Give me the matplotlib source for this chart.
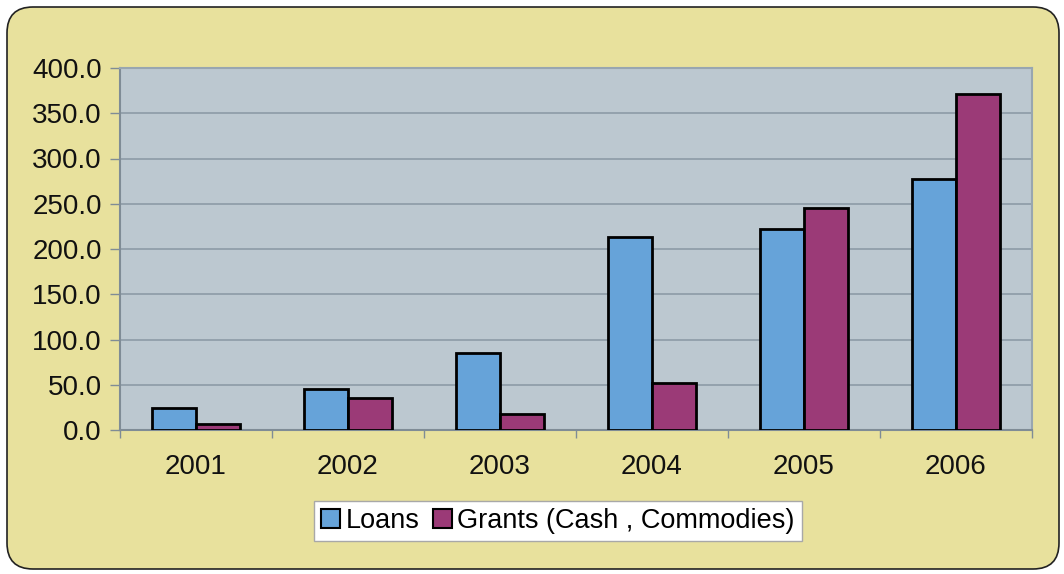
import matplotlib
matplotlib.use("Agg")
import matplotlib.pyplot as plt
import matplotlib.patches as mpatches
import numpy as np

plt.rcParams["font.family"] = ["Liberation Sans", "DejaVu Sans"]

years = ["2001", "2002", "2003", "2004", "2005", "2006"]
loans = [24.0, 45.0, 85.0, 213.0, 222.0, 277.0]
grants = [6.5, 35.0, 17.5, 52.0, 245.0, 371.0]
series_names = ["Loans", "Grants (Cash , Commodies)"]

LOAN_C = "#66a3d9"
GRANT_C = "#9b3a77"
W, H = 1064, 574

fig = plt.figure(figsize=(W / 100, H / 100), dpi=100)
fig.patch.set_facecolor("white")

# rounded yellow panel behind the chart
bg = fig.add_axes([0, 0, 1, 1])
bg.set_xlim(0, W)
bg.set_ylim(H, 0)
bg.axis("off")
bg.add_patch(mpatches.FancyBboxPatch(
    (7, 7), W - 12, H - 12, boxstyle="round,pad=0,rounding_size=26",
    facecolor="#e8e19d", edgecolor="#222222", linewidth=1.2))

ax = fig.add_axes([120 / W, 1 - 430 / H, 912 / W, 362 / H])
ax.set_facecolor("#bcc8d0")

x = np.arange(len(years))
bw = 0.29
ax.bar(x - bw / 2, loans, bw, color=LOAN_C, edgecolor="black", linewidth=2, zorder=3)
ax.bar(x + bw / 2, grants, bw, color=GRANT_C, edgecolor="black", linewidth=2, zorder=3)

ax.set_xlim(-0.5, len(years) - 0.5)
ax.set_ylim(0, 400)
ax.set_yticks(np.arange(0, 401, 50))
ax.set_yticklabels([f"{v:.1f}" for v in np.arange(0, 401, 50)], fontsize=20, color="#111111")
ax.yaxis.grid(True, color="#8c9ba6", linewidth=1.2, zorder=0)
ax.set_axisbelow(True)

ax.set_xticks(x)
ax.set_xticklabels(years, fontsize=20, color="#111111")
ax.tick_params(axis="x", which="major", length=0, pad=17)
ax.set_xticks(np.arange(-0.5, len(years)), minor=True)
ax.tick_params(axis="x", which="minor", length=6, color="#7f8c96", width=1)
ax.tick_params(axis="y", length=7, color="#7f8c96", width=1, pad=6)

for side in ["left", "bottom"]:
    ax.spines[side].set_color("#7f8c96")
    ax.spines[side].set_linewidth(1.5)
for side in ["right", "top"]:
    ax.spines[side].set_color("#98a6b0")
    ax.spines[side].set_linewidth(1.5)

handles = [mpatches.Patch(facecolor=LOAN_C, edgecolor="black", linewidth=1.5),
           mpatches.Patch(facecolor=GRANT_C, edgecolor="black", linewidth=1.5)]
leg = fig.legend(handles, series_names, loc="center", bbox_to_anchor=(558 / W, 1 - 521 / H),
                 ncol=2, fontsize=19.5, frameon=True, fancybox=False, framealpha=1,
                 edgecolor="#a8a8a8", handlelength=0.7, handleheight=0.7,
                 handletextpad=0.2, columnspacing=0.5, borderpad=0.25, borderaxespad=0)
leg.get_frame().set_linewidth(1)

fig.savefig("out.png", dpi=100, facecolor="white")
